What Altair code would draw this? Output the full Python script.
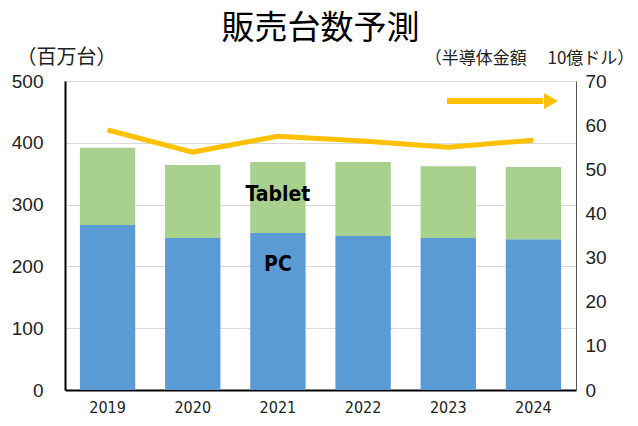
import altair as alt
import pandas as pd

years = ["2019", "2020", "2021", "2022", "2023", "2024"]
pc = [267, 246, 254, 249, 246, 244]
tablet = [125, 118, 115, 120, 116, 117]
semi = [58.9, 53.9, 57.5, 56.4, 55.0, 56.6]

rows = []
for y, p, t in zip(years, pc, tablet):
    rows.append({"year": y, "kind": "PC", "units": p, "ord": 0})
    rows.append({"year": y, "kind": "Tablet", "units": t, "ord": 1})
bar_df = pd.DataFrame(rows)
line_df = pd.DataFrame({"year": years, "semi": semi})
label_df = pd.DataFrame({"year": ["2021", "2021"], "label": ["Tablet", "PC"], "pos": [315, 202]})

FONT = "Liberation Sans"
NARROW = "'DejaVu Sans Condensed', 'Liberation Sans', sans-serif"
JP = "Noto Sans CJK JP"

xenc = alt.X("year:N", sort=years, title=None,
             scale=alt.Scale(paddingInner=0.35, paddingOuter=0.175),
             axis=alt.Axis(labelAngle=0, ticks=False, labelFont=NARROW, labelFontSize=16,
                           labelColor="#222", labelPadding=9, domainColor="black",
                           domainWidth=2, grid=False))

bars = alt.Chart(bar_df).mark_bar().encode(
    x=xenc,
    y=alt.Y("units:Q", stack="zero",
            scale=alt.Scale(domain=[0, 500]),
            axis=alt.Axis(values=[0, 100, 200, 300, 400, 500], title="（百万台）",
                          titleAngle=0, titleFont=JP, titleFontSize=20, titleFontWeight="normal",
                          titleX=1, titleY=-14, titleAlign="center", titleColor="#222",
                          labelFont=FONT, labelFontSize=19, labelColor="#222", labelPadding=22,
                          ticks=False, domainColor="black", domainWidth=2,
                          grid=True, gridColor="#d9d9d9", gridWidth=1.2)),
    color=alt.Color("kind:N", scale=alt.Scale(domain=["PC", "Tablet"], range=["#5B9BD5", "#A9D18E"]),
                    legend=None),
    order=alt.Order("ord:Q"),
)

labels = alt.Chart(label_df).mark_text(font=NARROW, fontSize=21, fontWeight="bold", color="black").encode(
    x=alt.X("year:N", sort=years),
    y=alt.Y("pos:Q"),
    text="label:N",
)

left = alt.layer(bars, labels)

line = alt.Chart(line_df).mark_line(color="#FFC000", strokeWidth=5).encode(
    x=alt.X("year:N", sort=years),
    y=alt.Y("semi:Q", scale=alt.Scale(domain=[0, 70]),
            axis=alt.Axis(orient="right", values=[0, 10, 20, 30, 40, 50, 60, 70],
                          title="（半導体金額\u3000 10億ドル）", titleAngle=0, titleFont=JP,
                          titleFontSize=17, titleFontWeight="normal", titleColor="#222",
                          titleX=-47, titleY=-14, titleAlign="center",
                          labelFont=FONT, labelFontSize=19, labelColor="#222", labelPadding=9,
                          ticks=False, domainColor="#555", domainWidth=1, grid=False)),
)

arrow_line = alt.Chart(line_df).mark_rule(color="#FFC000", strokeWidth=5).encode(
    x=alt.value(382), x2=alt.value(478), y=alt.value(20)
)
arrow_head = alt.Chart(pd.DataFrame({"a": [1]})).mark_point(
    shape="triangle-right", filled=True, color="#FFC000", opacity=1, size=260
).encode(x=alt.value(486), y=alt.value(20))

right = alt.layer(line, arrow_line, arrow_head)

chart = alt.layer(left, right).resolve_scale(y="independent").properties(
    width=511, height=309,
    autosize=alt.AutoSizeParams(type="none"),
    padding={"left": 57, "top": 73, "right": 54, "bottom": 28},
    title=alt.TitleParams("販売台数予測", font=JP, fontSize=33, fontWeight="normal",
                          color="black", anchor="middle", offset=1),
).configure_view(stroke="#595959", strokeWidth=1).configure(background="white")

chart.save("out.html", embed_options={"renderer": "svg", "actions": False})
